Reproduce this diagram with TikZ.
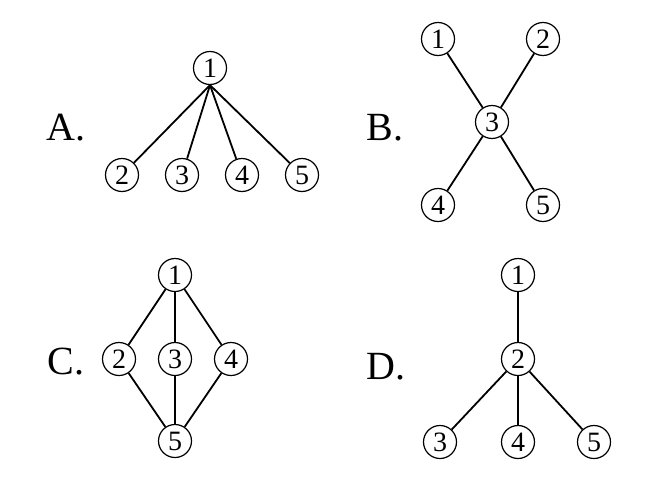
\documentclass[tikz,border=0pt]{standalone}
\usepackage{fontspec}
\setmainfont{Liberation Serif}
\usetikzlibrary{positioning}

\begin{document}
\begin{tikzpicture}[
    x=0.5pt, y=-0.5pt,
    vertex/.style={circle, draw=black, line width=0.6pt, minimum size=16.5pt, inner sep=0pt, font=\fontsize{14}{14}\selectfont},
    choice/.style={font=\fontsize{20}{22}\selectfont},
    edge/.style={line width=0.9pt}
]

    \useasboundingbox (0,0) rectangle (656,476);

    \node[choice] (labA) at (66,128) {A.};
    \node[vertex] (a1) at (210,68) {1};
    \node[vertex] (a2) at (122,175) {2};
    \node[vertex] (a3) at (182,175) {3};
    \node[vertex] (a4) at (242,175) {4};
    \node[vertex] (a5) at (302,175) {5};

    \draw[edge] (a1.south) -- (a2);
    \draw[edge] (a1.south) -- (a3);
    \draw[edge] (a1.south) -- (a4);
    \draw[edge] (a1.south) -- (a5);

    \node[choice] (labB) at (385,128) {B.};
    \node[vertex] (b1) at (438,39) {1};
    \node[vertex] (b2) at (543,39) {2};
    \node[vertex] (b3) at (492,122) {3};
    \node[vertex] (b4) at (438,205) {4};
    \node[vertex] (b5) at (543,205) {5};

    \draw[edge] (b1) -- (b3);
    \draw[edge] (b2) -- (b3);
    \draw[edge] (b3) -- (b4);
    \draw[edge] (b3) -- (b5);

    \node[choice] (labC) at (66,362) {C.};
    \node[vertex] (c1) at (175,275) {1};
    \node[vertex] (c2) at (119,359) {2};
    \node[vertex] (c3) at (175,359) {3};
    \node[vertex] (c4) at (231,359) {4};
    \node[vertex] (c5) at (175,441) {5};

    \draw[edge] (c1) -- (c2);
    \draw[edge] (c1) -- (c3);
    \draw[edge] (c1) -- (c4);
    \draw[edge] (c2) -- (c5);
    \draw[edge] (c3) -- (c5);
    \draw[edge] (c4) -- (c5);

    \node[choice] (labD) at (386,367) {D.};
    \node[vertex] (d1) at (518,275) {1};
    \node[vertex] (d2) at (518,359) {2};
    \node[vertex] (d3) at (440,442) {3};
    \node[vertex] (d4) at (518,442) {4};
    \node[vertex] (d5) at (594,442) {5};

    \draw[edge] (d1) -- (d2);
    \draw[edge] (d2) -- (d3);
    \draw[edge] (d2) -- (d4);
    \draw[edge] (d2) -- (d5);

\end{tikzpicture}
\end{document}
